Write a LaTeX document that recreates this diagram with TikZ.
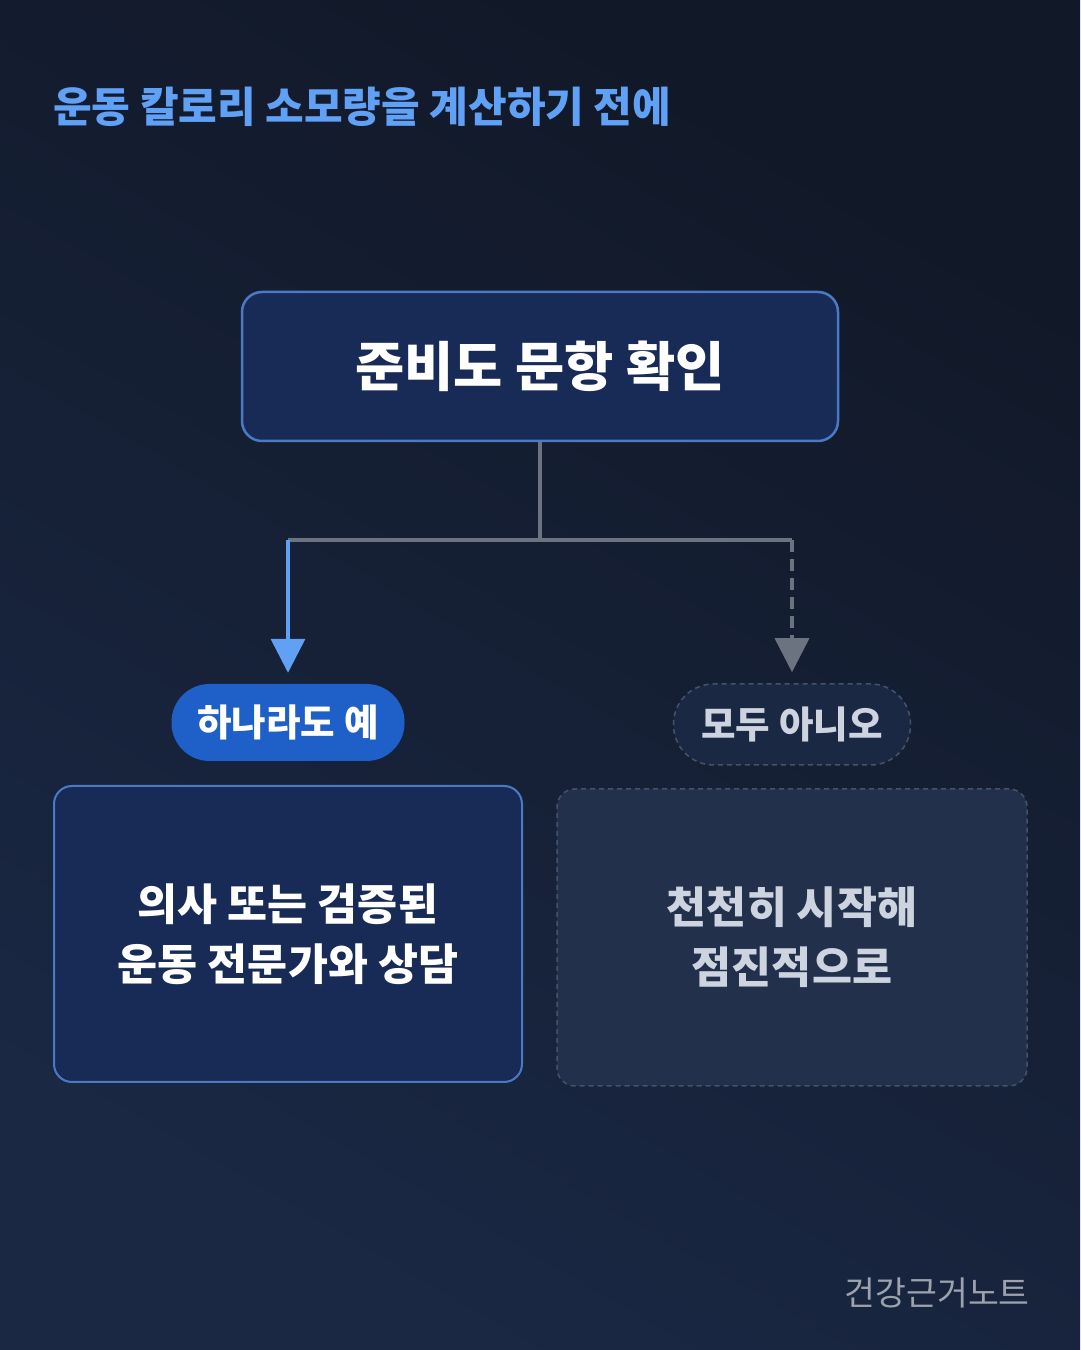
\documentclass[tikz,border=0pt]{standalone}
\usepackage{fontspec}
\newfontfamily\kr{Noto Sans CJK KR}
\usetikzlibrary{arrows.meta,positioning}
\definecolor{bgTop}{RGB}{17,24,39}
\definecolor{bgBot}{RGB}{26,40,68}
\definecolor{titleColor}{RGB}{96,160,245}
\definecolor{boxFill}{RGB}{23,43,86}
\definecolor{boxLine}{RGB}{74,122,196}
\definecolor{pillFill}{RGB}{30,96,200}
\definecolor{greyFill}{RGB}{34,48,76}
\definecolor{greyLine}{RGB}{70,82,104}
\definecolor{linkColor}{RGB}{107,114,128}
\definecolor{yesColor}{RGB}{96,160,245}
\definecolor{softText}{RGB}{205,212,224}
\definecolor{footColor}{RGB}{156,163,175}
\tikzset{
  mainbox/.style={draw=boxLine,line width=2.5pt,fill=boxFill,rounded corners=20pt},
  yesbox/.style={draw=boxLine,line width=2pt,fill=boxFill,rounded corners=18pt},
  nobox/.style={draw=greyLine,line width=1.5pt,dash pattern=on 5pt off 4pt,fill=greyFill,rounded corners=18pt},
  link/.style={draw=linkColor,line width=3.5pt}
}
\begin{document}
\begin{tikzpicture}[x=1pt,y=1pt,font=\kr]
\shade[left color=bgTop,right color=bgBot,shading angle=-30] (0,0) rectangle (1080,1350);
\path[use as bounding box] (0,0) rectangle (1080,1350);

% title
\node[anchor=base west,inner sep=0pt,text=titleColor,font=\kr\bfseries\fontsize{42}{50}\selectfont] (title) at (53,1227) {운동 칼로리 소모량을 계산하기 전에};

% top question
\node[mainbox,minimum width=596pt,minimum height=149pt,text=white,font=\kr\bfseries\fontsize{53.5}{60}\selectfont] (check) at (540,983.5) {준비도 문항 확인};

% answers
\node[fill=pillFill,rounded corners=38pt,minimum width=233pt,minimum height=77pt,text=white,font=\kr\bfseries\fontsize{37.5}{44}\selectfont] (yes) at (288,627.5) {하나라도 예};
\node[nobox,rounded corners=40pt,minimum width=237pt,minimum height=81pt,text=softText,fill=bgBot,font=\kr\bfseries\fontsize{37.5}{44}\selectfont] (no) at (792,625.5) {모두 아니오};

\node[yesbox,minimum width=468pt,minimum height=296pt,text=white,align=center,font=\kr\bfseries\fontsize{43.5}{60}\selectfont] (expert) at (288,416) {의사 또는 검증된\\운동 전문가와 상담};
\node[nobox,minimum width=470pt,minimum height=297pt,text=softText,align=center,font=\kr\bfseries\fontsize{43.5}{60}\selectfont] (slow) at (792,412.5) {천천히 시작해\\점진적으로};

% connectors
\coordinate (split) at (540,810);
\coordinate (left) at (288,810);
\coordinate (right) at (792,810);
\draw[link] (check.south) -- (split);
\draw[link] (left) -- (right);
\draw[draw=yesColor,line width=3.5pt,-{Triangle[width=34pt,length=34pt,fill=yesColor]}] (left) -- ([yshift=11pt]yes.north);
\draw[link,dash pattern=on 12pt off 7pt,-{Triangle[width=34pt,length=34pt]}] (right) -- ([yshift=11pt]no.north);

% footer
\node[anchor=base east,inner sep=0pt,text=footColor,font=\kr\fontsize{33.5}{38}\selectfont] (brand) at (1030,1350-1306) {건강근거노트};
\end{tikzpicture}
\end{document}
